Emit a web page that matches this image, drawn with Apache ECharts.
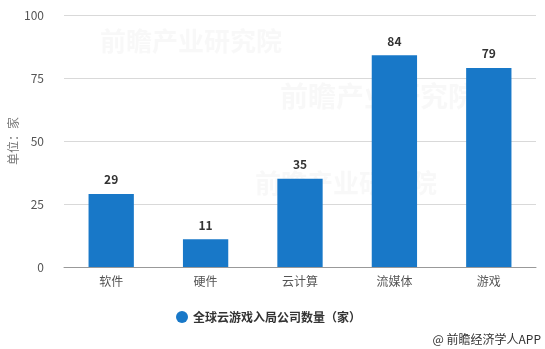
<!DOCTYPE html>
<html>
<head>
<meta charset="utf-8">
<script src="https://cdn.jsdelivr.net/npm/echarts@6/dist/echarts.min.js"></script>
<style>
  html, body { margin: 0; padding: 0; background: #fff; }
  #chart { width: 545px; height: 349px; }
</style>
</head>
<body>
<div id="chart"></div>
<script>
// Global cloud-gaming entrants by company type
const categories = ['软件', '硬件', '云计算', '流媒体', '游戏'];
const companyCounts = [29, 11, 35, 84, 79];
const seriesName = '全球云游戏入局公司数量（家）';
const yTicks = { min: 0, max: 100, interval: 25 };

const chart = echarts.init(document.getElementById('chart'));
const font = '"Microsoft YaHei", "Noto Sans CJK SC", sans-serif';

chart.setOption({
  animation: false,
  textStyle: { fontFamily: font },
  grid: { left: 64, right: 9, top: 15, bottom: 82, containLabel: false, outerBoundsMode: 'none' },
  legend: {
    data: [seriesName],
    icon: 'circle',
    itemWidth: 12,
    itemHeight: 12,
    left: 171,
    top: 306,
    textStyle: { fontSize: 12, fontWeight: 'bold', color: '#333', fontFamily: font }
  },
  xAxis: {
    type: 'category',
    data: categories,
    axisLine: { lineStyle: { color: '#999' } },
    axisTick: { alignWithLabel: true, length: 5, lineStyle: { color: '#999' } },
    axisLabel: { color: '#555', fontSize: 12, margin: 8 }
  },
  yAxis: {
    type: 'value',
    min: yTicks.min,
    max: yTicks.max,
    interval: yTicks.interval,
    name: '单位：家',
    nameLocation: 'middle',
    nameGap: 45,
    nameMoveOverlap: false,
    nameTextStyle: { color: '#777', fontSize: 12 },
    axisLine: { show: false },
    axisTick: { show: false },
    axisLabel: { color: '#555', fontSize: 12, margin: 20 },
    splitLine: { lineStyle: { color: '#d9d9d9' } }
  },
  series: [{
    name: seriesName,
    type: 'bar',
    data: companyCounts,
    barWidth: '48%',
    itemStyle: { color: '#1878c8' },
    label: {
      show: true,
      position: 'top',
      distance: 8,
      color: '#333',
      fontWeight: 'bold',
      fontSize: 12
    }
  }],
  graphic: [
    {
      type: 'text',
      right: 4,
      bottom: 4,
      style: { text: '@ 前瞻经济学人APP', fill: '#333', fontSize: 12, fontFamily: font }
    },
    {
      type: 'text',
      left: 100,
      top: 28,
      style: { text: '前瞻产业研究院', fill: 'rgba(200,200,200,0.13)', fontSize: 26, fontWeight: 'bold', fontFamily: font }
    },
    {
      type: 'text',
      left: 280,
      top: 82,
      style: { text: '前瞻产业研究院', fill: 'rgba(200,200,200,0.13)', fontSize: 28, fontWeight: 'bold', fontFamily: font }
    },
    {
      type: 'text',
      left: 255,
      top: 170,
      style: { text: '前瞻产业研究院', fill: 'rgba(200,200,200,0.12)', fontSize: 26, fontWeight: 'bold', fontFamily: font }
    }
  ]
});
</script>
</body>
</html>
